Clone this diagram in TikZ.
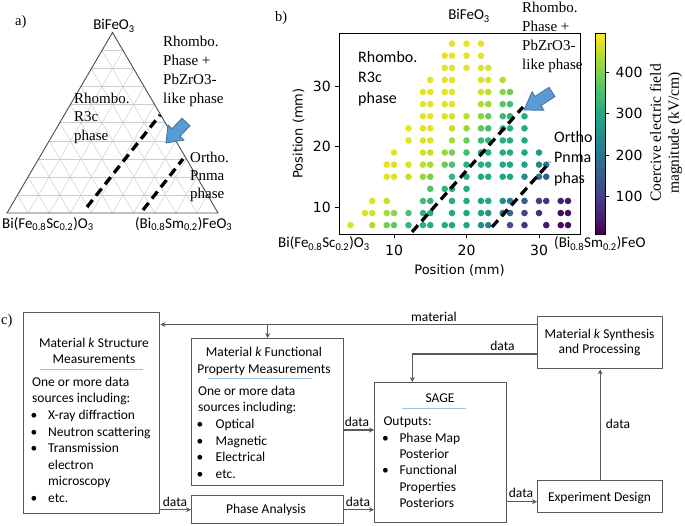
\documentclass[tikz,border=0pt]{standalone}
\usepackage{fontspec}
\setmainfont{Liberation Serif}
\newfontfamily\calib{Carlito}
\newfontfamily\dejavu{DejaVu Sans}
\usetikzlibrary{calc,arrows.meta}
\definecolor{v0}{HTML}{440154}
\definecolor{v1}{HTML}{482475}
\definecolor{v2}{HTML}{414487}
\definecolor{v3}{HTML}{355F8D}
\definecolor{v4}{HTML}{2A788E}
\definecolor{v5}{HTML}{21918C}
\definecolor{v6}{HTML}{22A884}
\definecolor{v7}{HTML}{44BF70}
\definecolor{v8}{HTML}{7AD151}
\definecolor{v9}{HTML}{BDDF26}
\definecolor{v10}{HTML}{FDE725}
\definecolor{boxgray}{HTML}{595959}
\definecolor{sepblue}{HTML}{9DC3E6}
\definecolor{arrowblue}{HTML}{5B9BD5}
\definecolor{arrowedge}{HTML}{41719C}
\newcommand\setvir[1]{%
  \pgfmathsetmacro\virT{min(max(#1,0),0.9999)}%
  \pgfmathtruncatemacro\virI{floor(10*\virT)}%
  \pgfmathtruncatemacro\virJ{\virI+1}%
  \pgfmathtruncatemacro\virF{round(100*(10*\virT-\virI))}%
  \colorlet{vircol}{v\virJ!\virF!v\virI}%
}
\newcommand\blt[1]{\makebox[#1][l]{\hspace{-1.5pt}\textbullet}}
\newcommand\blockarrow[2]{%
  \coordinate (ba0) at ($(#1)!0.5!(#2)$);
  \path[fill=arrowblue, draw=arrowedge, line width=0.8pt]
    ($(#1)!5.5pt!90:(#2)$) -- ($(ba0)!5.5pt!90:(#2)$) -- ($(ba0)!11pt!90:(#2)$) -- (#2)
    -- ($(ba0)!11pt!-90:(#2)$) -- ($(ba0)!5.5pt!-90:(#2)$) -- ($(#1)!5.5pt!-90:(#2)$) -- cycle;
}
\begin{document}
\begin{tikzpicture}[x=1pt,y=-1pt,
  gridl/.style={draw=black!20, line width=0.5pt},
  triline/.style={draw=black!70, line width=0.9pt},
  phasedash/.style={draw=black, line width=3.3pt, dash pattern=on 9pt off 5.5pt},
  serlab/.style={font=\fontsize{15}{19}\selectfont, align=left, anchor=north west, inner sep=0pt},
  sanslab/.style={font=\calib\fontsize{16}{20.5}\selectfont, align=left, anchor=north west, inner sep=0pt},
  complab/.style={font=\calib\fontsize{15}{18}\selectfont, inner sep=0pt},
  axtick/.style={draw=black, line width=0.8pt},
  ticklab/.style={font=\dejavu\fontsize{14}{16}\selectfont, inner sep=0pt},
  flowbox/.style={draw=boxgray, line width=1.4pt, inner sep=0pt},
  flow/.style={draw=boxgray, line width=1.4pt, -{Stealth[length=5pt,width=5pt]}},
  ctext/.style={font=\calib\fontsize{13.5}{16.6}\selectfont, inner sep=0pt},
  sepl/.style={draw=sepblue, line width=0.6pt},
  panlab/.style={font=\fontsize{14.5}{16}\selectfont, inner sep=0pt, anchor=base west},
]
\useasboundingbox (0,0) rectangle (685,526);

% ---------------- panel a ----------------
\node[panlab] (la) at (15,26) {a)};
\coordinate (TA) at (112.5,32.5);
\coordinate (TB) at (7,213);
\coordinate (TC) at (218,213);
\foreach \i in {1,...,9} {
  \draw[gridl] ($(TA)!\i/10!(TB)$) -- ($(TA)!\i/10!(TC)$);
  \draw[gridl] ($(TB)!\i/10!(TA)$) -- ($(TB)!\i/10!(TC)$);
  \draw[gridl] ($(TC)!\i/10!(TA)$) -- ($(TC)!\i/10!(TB)$);
}
\draw[triline] (TA) -- (TB) -- (TC) -- cycle;
\coordinate (a1s) at (87,207); \coordinate (a1e) at (160,115);
\coordinate (a2s) at (143,210); \coordinate (a2e) at (183,159);
\draw[phasedash] (a1s) -- (a1e);
\draw[phasedash] (a2s) -- (a2e);
\coordinate (aat) at (186,122); \coordinate (aap) at (166,143);
\blockarrow{aat}{aap}
\node[complab, anchor=base] (aBi) at (114,30) {BiFeO\textsubscript{3}};
\node[serlab] (aRP) at (163,34.7) {\rule{0pt}{12pt}Rhombo.\\Phase +\\PbZrO3-\\like phase};
\node[serlab, font=\fontsize{15}{18.5}\selectfont] (aR3) at (74,91) {\rule{0pt}{12pt}Rhombo.\\R3c\\phase};
\node[serlab, font=\fontsize{15}{18}\selectfont] (aOr) at (190,150) {\rule{0pt}{12pt}Ortho.\\Pnma\\phase};
\node[complab, anchor=base west] (aL) at (2,228.3) {Bi(Fe\textsubscript{0.8}Sc\textsubscript{0.2})O\textsubscript{3}};
\node[complab, anchor=base west] (aR) at (135,228.3) {(Bi\textsubscript{0.8}Sm\textsubscript{0.2})FeO\textsubscript{3}};

% ---------------- panel b ----------------
\node[panlab] (lb) at (275,22) {b)};
\node[complab, anchor=base] (bBi) at (469,20) {BiFeO\textsubscript{3}};
\foreach \yy/\xs in {37/{18,20,22}, 35/{17,18,20,22}, 33/{17,18,20,22,23},
  31/{15,17,18,22,23,25}, 29/{14,15,17,18,22,23,25,26}, 27/{14,15,17,18,22,23,25,26},
  25/{14,15,17,18,20,22,23,25,26,28}, 23/{12,14,15,18,20,22,23,25,26,28},
  21/{12,14,15,18,20,22,23,25,26,28}, 19/{10,14,15,17,18,20,22,23,25,26,28,30},
  17/{9,10,12,14,15,17,18,20,22,23,25,26,28,30,31},
  15/{9,10,12,14,15,18,20,22,23,25,26,28,30,31}, 13/{15,17,18,20},
  11/{7,9,14,15,18,20,22,23,25,26,28,30,31,33,34},
  9/{6,7,9,10,12,14,15,18,20,22,23,25,26,28,30,33,34},
  7/{4,7,9,10,12,14,15,17,18,20,22,23,26,28,31,33,34}} {
  \foreach \xx in \xs {
    \pgfmathsetmacro\dotD{0.8*\xx-0.6*\yy}
    \pgfmathsetmacro\dotT{(\dotD)<-3 ? 0.96 : ((\dotD)<0 ? 0.96-0.00667*((\dotD)+3) :
      ((\dotD)<2 ? 0.94-0.04*(\dotD) : ((\dotD)<4.5 ? 0.86-0.064*((\dotD)-2) :
      ((\dotD)<6 ? 0.70-0.0467*((\dotD)-4.5) : ((\dotD)<12 ? 0.63-0.00833*((\dotD)-6) :
      ((\dotD)<14 ? 0.58-0.065*((\dotD)-12) : ((\dotD)<17 ? 0.45-0.0833*((\dotD)-14) :
      ((\dotD)<21 ? 0.20-0.04*((\dotD)-17) : 0.03))))))))}
    \setvir{\dotT}
    \fill[vircol] ({394+(\xx-10)*7.25},{207-(\yy-10)*6.05}) circle[radius=3.3pt];
  }
}
\draw[black, line width=0.9pt] (339,33.3) rectangle (580,234.3);
\foreach \v in {10,20,30} {
  \draw[axtick] (335,{207-(\v-10)*6.05}) -- (339,{207-(\v-10)*6.05});
  \node[ticklab, anchor=east] (yt\v) at (331,{207-(\v-10)*6.05}) {\v};
  \draw[axtick] ({394+(\v-10)*7.25},234.3) -- ({394+(\v-10)*7.25},238.3);
  \node[ticklab, anchor=base] (xt\v) at ({394+(\v-10)*7.25},256) {\v};
}
\node[font=\dejavu\fontsize{13}{15}\selectfont, inner sep=0pt, anchor=base] (bxl) at (459.5,275) {Position (mm)};
\node[font=\dejavu\fontsize{13}{15}\selectfont, inner sep=0pt, rotate=90] (byl) at (298.5,133.5) {Position (mm)};
\coordinate (b1s) at (412,232); \coordinate (b1e) at (523,107);
\coordinate (b2s) at (492,227); \coordinate (b2e) at (550,162);
\draw[phasedash] (b1s) -- (b1e);
\draw[phasedash] (b2s) -- (b2e);
\coordinate (bat) at (552,92); \coordinate (bap) at (524,110);
\blockarrow{bat}{bap}
\node[serlab] (bRP) at (522,0) {\rule{0pt}{12pt}Rhombo.\\Phase +\\PbZrO3-\\like phase};
\node[sanslab] (bR3) at (358,50) {\rule{0pt}{12pt}Rhombo.\\R3c\\phase};
\node[sanslab] (bOr) at (554,130) {\rule{0pt}{12pt}Ortho\\Pnma\\phas};
\node[complab, anchor=base west] (bL) at (278,248) {Bi(Fe\textsubscript{0.8}Sc\textsubscript{0.2})O\textsubscript{3}};
\node[complab, anchor=base west] (bR) at (554,248) {(Bi\textsubscript{0.8}Sm\textsubscript{0.2})FeO};
% colorbar
\foreach \k in {0,...,99} {
  \pgfmathsetmacro\cbT{(\k+0.5)/100}
  \setvir{\cbT}
  \fill[vircol] (595,{234.3-\k*2.01}) rectangle (605,{234.3-(\k+1)*2.01-0.4});
}
\draw[black, line width=0.8pt] (595,33.3) rectangle (605,234.3);
\foreach \v in {100,200,300,400} {
  \draw[axtick] (605,{234.3-(\v-9.6)*0.4157}) -- (609,{234.3-(\v-9.6)*0.4157});
  \node[ticklab, anchor=west] (ct\v) at (615.5,{234.3-(\v-9.6)*0.4157}) {\v};
}
\node[font=\fontsize{15.5}{18}\selectfont, align=center, inner sep=0pt, rotate=90] (cbl) at (666,133)
  {Coercive electric field\\magnitude (kV/cm)};

% ---------------- panel c ----------------
\node[panlab] (lc) at (1,325) {c)};
\node[flowbox, anchor=north west, minimum width=136pt, minimum height=201pt] (struct) at (23,312) {};
\node[flowbox, anchor=north west, minimum width=152pt, minimum height=147pt] (func) at (191,338) {};
\node[flowbox, anchor=north west, minimum width=152pt, minimum height=28pt] (phase) at (191,495) {};
\node[flowbox, anchor=north west, minimum width=132pt, minimum height=140pt] (sage) at (374,382) {};
\node[flowbox, anchor=north west, minimum width=125pt, minimum height=52pt] (synth) at (537,316) {};
\node[flowbox, anchor=north west, minimum width=125pt, minimum height=32pt] (expd) at (537,480) {};

% box texts
\node[ctext, font=\calib\fontsize{13.5}{15.6}\selectfont, align=center, anchor=north] (stT) at (94,335.7)
  {\rule{0pt}{12pt}Material \textit{k} Structure\\Measurements};
\draw[sepl] (40,369) -- (143,369);
\node[ctext, align=left, anchor=north west] (stL) at (32,374)
  {\rule{0pt}{12pt}One or more data\\sources including:\\\blt{16pt}X-ray diffraction\\\blt{16pt}Neutron scattering\\
   \blt{16pt}Transmission\\\hspace*{16pt}electron\\\hspace*{16pt}microscopy\\\blt{16pt}etc.};
\node[ctext, align=center, anchor=north] (fuT) at (264,344.7)
  {\rule{0pt}{12pt}Material \textit{k} Functional\\Property Measurements};
\draw[sepl] (208,378.3) -- (312,378.3);
\node[ctext, align=left, anchor=north west] (fuL) at (198,383)
  {\rule{0pt}{12pt}One or more data\\sources including:\\\blt{17.5pt}Optical\\\blt{17.5pt}Magnetic\\
   \blt{17.5pt}Electrical\\\blt{17.5pt}etc.};
\node[ctext, anchor=base] (phT) at (266,513.3) {Phase Analysis};
\node[ctext, anchor=base] (saT) at (440,402.7) {SAGE};
\draw[sepl] (401.7,408.3) -- (465.7,408.3);
\node[ctext, font=\calib\fontsize{13.5}{16.4}\selectfont, align=left, anchor=north west] (saL) at (383.3,413.5)
  {\rule{0pt}{12pt}Outputs:\\\blt{16pt}Phase Map\\\hspace*{16pt}Posterior\\\blt{16pt}Functional\\
   \hspace*{16pt}Properties\\\hspace*{16pt}Posteriors};
\node[ctext, font=\calib\fontsize{13.5}{15}\selectfont, align=center, anchor=north] (syT) at (599.5,326.3)
  {\rule{0pt}{12pt}Material \textit{k} Synthesis\\and Processing};
\node[ctext, anchor=base] (exT) at (599.5,501) {Experiment Design};

% connectors
\coordinate (matY) at (0,324.5);
\coordinate (datY) at (0,354);
\coordinate (fsY) at (0,430);
\coordinate (seY) at (0,501.7);
\coordinate (sageIn) at ($(sage.north west)+(38.3,0)$);
\draw[flow] (synth.west |- matY) -- (struct.east |- matY);
\draw[flow] (func.north |- matY) -- (func.north);
\draw[flow] (synth.west |- datY) -| (sageIn);
\draw[flow] (struct.east |- phase.west) -- (phase.west);
\draw[flow] (func.east |- fsY) -- (sage.west |- fsY);
\draw[flow] (phase.east) -- (sage.west |- phase.east);
\draw[flow] (sage.east |- seY) -- (expd.west |- seY);
\draw[flow] (expd.north) -- (synth.south);
\node[ctext, anchor=base] (lbm) at (434,321.3) {material};
\node[ctext, anchor=base] (lbd1) at (502.5,350.3) {data};
\node[ctext, anchor=base] (lbd2) at (175,506.3) {data};
\node[ctext, anchor=base] (lbd3) at (357,426.3) {data};
\node[ctext, anchor=base] (lbd4) at (358,506.3) {data};
\node[ctext, anchor=base] (lbd5) at (521,497.5) {data};
\node[ctext, anchor=base west] (lbd6) at (605.7,428.3) {data};
\end{tikzpicture}
\end{document}
